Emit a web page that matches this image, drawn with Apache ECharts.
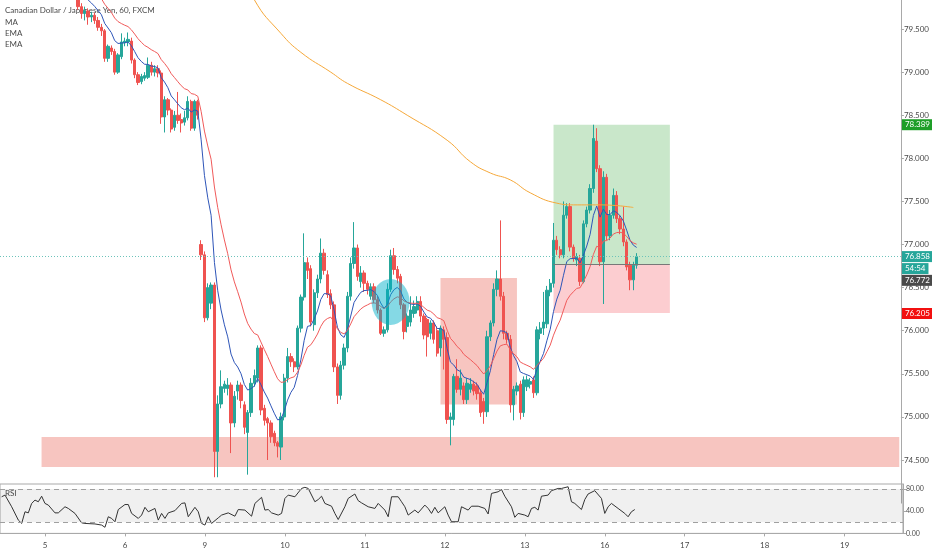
<!DOCTYPE html>
<html>
<head>
<meta charset="utf-8">
<script src="https://cdn.jsdelivr.net/npm/echarts@6/dist/echarts.min.js"></script>
<style>
html, body { margin: 0; padding: 0; background: #fff; }
#container { width: 932px; height: 550px; }
</style>
</head>
<body>
<div id="container"></div>
<script>
var dom = document.getElementById("container");
var myChart = echarts.init(dom, null, { renderer: "canvas" });

// trading days shown on the axis (weekend skipped), hourly bars
var days = [4, 5, 6, 9, 10, 11, 12, 13, 16, 17, 18, 19];
var firstHour = 11;   // first bar of day 4
var lastHour = 17;    // last slot of day 19

// [open, close, low, high]
var candles = [
    [80.50, 80.42, 80.38, 80.55], [80.42, 80.46, 80.38, 80.52], [80.46, 80.38, 80.33, 80.49],
    [80.38, 80.31, 80.27, 80.42], [80.31, 80.35, 80.26, 80.40], [80.35, 80.26, 80.22, 80.38],
    [80.26, 80.20, 80.15, 80.30], [80.20, 80.27, 80.17, 80.31], [80.27, 80.22, 80.18, 80.30],
    [80.22, 80.28, 80.19, 80.33], [80.28, 80.30, 80.24, 80.36], [80.30, 80.24, 80.20, 80.33],
    [80.24, 80.30, 80.21, 80.35], [80.30, 80.22, 80.18, 80.32], [80.22, 80.16, 80.12, 80.25],
    [80.16, 80.10, 80.06, 80.19], [80.10, 80.13, 80.05, 80.17], [80.13, 80.05, 80.01, 80.15],
    [80.05, 80.08, 80.00, 80.12], [80.08, 80.02, 79.97, 80.10], [80.02, 79.98, 79.93, 80.05],
    [79.98, 80.00, 79.92, 80.04], [80.00, 79.95, 79.90, 80.03],
    [79.95, 79.76, 79.72, 80.00], [79.76, 79.68, 79.62, 79.80], [79.68, 79.71, 79.60, 79.76],
    [79.71, 79.64, 79.55, 79.74], [79.64, 79.66, 79.58, 79.70], [79.66, 79.60, 79.56, 79.69],
    [79.60, 79.52, 79.48, 79.64], [79.52, 79.48, 79.42, 79.56], [79.48, 79.16, 79.12, 79.50],
    [79.16, 79.30, 79.12, 79.32], [79.28, 79.24, 79.20, 79.31], [79.24, 79.00, 78.97, 79.27],
    [79.00, 79.20, 78.98, 79.22], [79.18, 79.35, 79.15, 79.45], [79.34, 79.36, 79.30, 79.40],
    [79.35, 79.38, 79.30, 79.46], [79.36, 79.14, 79.10, 79.40], [79.14, 78.97, 78.93, 79.16],
    [78.97, 78.88, 78.85, 79.00], [78.89, 78.95, 78.86, 78.98], [78.93, 78.96, 78.90, 79.00],
    [78.94, 79.08, 78.92, 79.17], [79.08, 79.00, 78.96, 79.12], [79.00, 79.04, 78.95, 79.08],
    [79.04, 78.99, 78.94, 79.08], [78.99, 78.48, 78.40, 79.02], [78.48, 78.68, 78.30, 78.72],
    [78.68, 78.56, 78.50, 78.70], [78.56, 78.34, 78.30, 78.58], [78.36, 78.50, 78.32, 78.55],
    [78.50, 78.44, 78.40, 78.77], [78.45, 78.41, 78.30, 78.52], [78.42, 78.47, 78.38, 78.55],
    [78.47, 78.66, 78.44, 78.72], [78.66, 78.35, 78.32, 78.68], [78.35, 78.66, 78.32, 78.68],
    [78.66, 78.50, 78.45, 78.68],
    [77.00, 76.88, 76.82, 77.05], [76.88, 76.15, 76.10, 76.92], [76.15, 76.50, 76.12, 76.55],
    [76.32, 76.53, 76.25, 76.56], [76.53, 74.60, 74.30, 76.56], [74.60, 75.15, 74.30, 75.25],
    [75.15, 75.35, 75.10, 75.54], [75.33, 75.38, 75.28, 75.42], [75.33, 75.37, 75.25, 75.45],
    [75.37, 74.93, 74.58, 75.40], [74.93, 75.24, 74.88, 75.30], [75.30, 75.37, 75.20, 75.42],
    [75.37, 75.19, 75.10, 75.40], [75.14, 74.88, 74.80, 75.18], [74.82, 75.05, 74.33, 75.08],
    [75.05, 75.39, 75.00, 75.45], [75.39, 75.48, 75.35, 75.55], [75.45, 75.80, 75.40, 75.83],
    [75.80, 75.08, 75.02, 75.83], [75.10, 74.96, 74.90, 75.14], [74.98, 74.93, 74.50, 75.00],
    [74.93, 74.77, 74.70, 74.96], [74.81, 74.70, 74.66, 74.84], [74.70, 74.66, 74.53, 74.72],
    [74.65, 75.00, 74.50, 75.05], [75.00, 75.45, 74.96, 75.50], [75.45, 75.70, 75.40, 75.80],
    [75.70, 75.64, 75.58, 75.74], [75.64, 75.58, 75.52, 75.68], [75.58, 76.03, 75.55, 76.06],
    [76.03, 76.39, 75.98, 76.42], [76.39, 76.79, 76.35, 77.13], [76.79, 76.70, 76.60, 76.85],
    [76.72, 76.10, 76.05, 76.76], [76.07, 76.44, 76.00, 76.48], [76.44, 76.60, 76.38, 76.65],
    [76.60, 76.90, 76.55, 77.07], [76.90, 76.70, 76.65, 76.95], [76.65, 76.42, 76.38, 76.70],
    [76.43, 76.30, 76.25, 76.48], [76.30, 75.58, 75.52, 76.34], [75.58, 75.25, 75.15, 75.62],
    [75.25, 75.60, 75.20, 75.65], [75.60, 75.80, 75.55, 75.85], [75.80, 76.40, 75.75, 76.45],
    [76.40, 76.78, 76.35, 76.85], [76.78, 76.96, 76.72, 77.26], [76.96, 76.63, 76.58, 77.00],
    [76.57, 76.67, 76.50, 76.75], [76.67, 76.55, 76.45, 76.70], [76.55, 76.48, 76.42, 76.58],
    [76.40, 76.51, 76.36, 76.55], [76.51, 76.36, 76.32, 76.55], [76.36, 76.24, 76.20, 76.40],
    [76.24, 75.97, 75.95, 76.26], [75.97, 76.01, 75.93, 76.05], [76.01, 76.48, 75.98, 76.55],
    [76.48, 76.87, 76.45, 76.94], [76.87, 76.71, 76.65, 76.96], [76.71, 76.61, 76.55, 76.75],
    [76.63, 76.30, 76.25, 76.66], [76.30, 75.99, 75.90, 76.32], [76.05, 76.17, 75.98, 76.20],
    [76.10, 76.24, 76.05, 76.40], [76.20, 76.28, 76.15, 76.35], [76.24, 76.34, 76.20, 76.40],
    [76.34, 76.17, 76.10, 76.40], [76.17, 75.95, 75.90, 76.20], [76.13, 75.93, 75.70, 76.15],
    [75.97, 76.09, 75.90, 76.12], [76.09, 75.90, 75.85, 76.12], [76.00, 75.74, 75.70, 76.05],
    [75.80, 76.03, 75.70, 76.06], [76.01, 75.90, 75.55, 76.05], [75.92, 74.97, 74.92, 75.98],
    [74.97, 75.00, 74.67, 75.05], [74.97, 75.47, 74.90, 75.50], [75.47, 75.32, 75.28, 75.67],
    [75.32, 75.45, 75.25, 75.55], [75.36, 75.20, 75.15, 75.40], [75.20, 75.39, 75.15, 75.45],
    [75.32, 75.38, 75.28, 75.45], [75.38, 75.30, 75.25, 75.42], [75.36, 75.27, 75.20, 75.40],
    [75.28, 75.05, 75.00, 75.32], [75.18, 75.06, 74.92, 75.22], [75.06, 75.93, 75.00, 76.00],
    [75.93, 76.09, 75.88, 76.12], [76.09, 76.48, 76.05, 76.55], [76.48, 76.60, 76.40, 76.70],
    [76.60, 76.40, 76.35, 77.28], [76.40, 75.97, 75.90, 76.45], [75.97, 75.90, 75.85, 76.00],
    [75.90, 75.14, 75.05, 75.95], [75.14, 75.32, 74.96, 75.36], [75.30, 75.36, 75.25, 75.40],
    [75.38, 75.05, 74.97, 75.42], [75.05, 75.43, 75.00, 75.47], [75.35, 75.43, 75.30, 75.48],
    [75.38, 75.41, 75.33, 75.45], [75.43, 75.28, 75.22, 75.47],
    [75.28, 76.01, 75.25, 76.05], [75.97, 76.03, 75.90, 76.10], [76.03, 76.10, 75.95, 76.45],
    [76.08, 76.47, 76.03, 76.52], [76.45, 76.55, 76.40, 76.60], [76.55, 77.05, 76.50, 77.25],
    [77.05, 76.94, 76.88, 77.10], [76.94, 76.88, 76.84, 76.98], [76.88, 77.34, 76.84, 77.50],
    [77.34, 77.44, 77.30, 77.48], [77.44, 76.97, 76.92, 77.48], [76.97, 76.84, 76.80, 77.00],
    [76.82, 76.86, 76.75, 76.90], [76.84, 76.57, 76.52, 76.88], [76.57, 77.24, 76.55, 77.28],
    [77.24, 77.40, 77.20, 77.44], [77.40, 77.65, 77.36, 77.70], [77.65, 78.23, 77.60, 78.39],
    [78.20, 77.88, 77.84, 78.35], [77.88, 76.80, 76.75, 77.92], [76.80, 77.78, 76.31, 77.85],
    [77.78, 77.10, 77.05, 77.82], [77.10, 77.34, 77.05, 77.40], [77.34, 77.57, 77.30, 77.65],
    [77.57, 77.30, 77.25, 77.62], [77.30, 77.18, 77.12, 77.34], [77.18, 77.03, 76.98, 77.44],
    [77.03, 76.74, 76.70, 77.06], [76.76, 76.59, 76.47, 76.80], [76.59, 76.76, 76.47, 76.80],
    [76.76, 76.858, 76.72, 76.90]
];

// 200 period MA as [bar index, price]
var maPoints = [
    [72, 80.25], [76, 79.84], [84, 79.45], [90, 79.23], [99, 79.00], [104, 78.87],
    [114, 78.68], [122, 78.50], [134, 78.21], [141, 77.96], [147, 77.83], [153, 77.75],
    [159, 77.60], [167, 77.48], [172, 77.46], [180, 77.46], [190, 77.43]
];

var rsiPoints = [
    [0, 66], [1, 69], [3, 48], [5, 24], [6, 18], [7, 39], [8, 37], [9, 54], [10, 60], [11, 57],
    [12, 67], [13, 54], [14, 51], [16, 37], [17, 37], [19, 48], [20, 45], [22, 36], [24, 19],
    [25, 18], [28, 17], [30, 15], [31, 11], [32, 30], [33, 27], [34, 21], [35, 43], [37, 52],
    [38, 52], [39, 36], [41, 27], [42, 33], [43, 47], [44, 39], [46, 45], [47, 24], [48, 36],
    [49, 27], [50, 37], [52, 41], [54, 54], [55, 55], [56, 30], [58, 47], [59, 39], [60, 18],
    [61, 15], [62, 30], [63, 18], [65, 28], [66, 33], [68, 37], [70, 31], [71, 43], [73, 42],
    [75, 31], [76, 54], [78, 65], [79, 42], [80, 43], [81, 37], [83, 33], [84, 36], [85, 63],
    [86, 69], [88, 66], [90, 81], [91, 83], [92, 81], [94, 57], [95, 61], [96, 67], [97, 54],
    [99, 49], [100, 36], [101, 25], [103, 48], [104, 63], [106, 71], [107, 59], [108, 55],
    [110, 48], [112, 45], [113, 54], [115, 42], [116, 30], [117, 66], [119, 66], [120, 57],
    [121, 48], [122, 33], [124, 42], [125, 37], [127, 51], [128, 45], [129, 36], [130, 47],
    [131, 37], [133, 48], [134, 33], [135, 21], [137, 21], [138, 48], [140, 42], [141, 49],
    [143, 49], [145, 45], [146, 35], [147, 72], [149, 75], [150, 79], [151, 67], [153, 48],
    [154, 29], [155, 36], [157, 33], [158, 30], [159, 45], [160, 47], [161, 42], [162, 67],
    [164, 69], [165, 77], [167, 81], [168, 81], [170, 84], [171, 57], [172, 54], [174, 43],
    [175, 61], [176, 71], [178, 77], [180, 63], [181, 36], [182, 48], [183, 54], [185, 45],
    [187, 36], [188, 30], [189, 39], [190, 43]
];

// drawings
var lastPrice = 76.858;
var entry = 76.772, target = 78.389, stop = 76.205;
var posFrom = 166, posTo = 201;
var zoneFrom = 132, zoneTo = 155, zoneTop = 76.611, zoneBottom = 75.144;
var supportFrom = 12, supportTo = 270, supportTop = 74.767, supportBottom = 74.419;
var circlePoint = [117, 76.333];

var categories = [];
days.forEach(function (d, k) {
    var h0 = k === 0 ? firstHour : 0;
    var h1 = k === days.length - 1 ? lastHour : 23;
    for (var h = h0; h <= h1; h++) {
        categories.push(d + " " + (h < 10 ? "0" + h : h));
    }
});

function ema(period) {
    var k = 2 / (period + 1), prev = null, out = [];
    candles.forEach(function (c) {
        prev = prev === null ? c[1] : c[1] * k + prev * (1 - k);
        out.push(+prev.toFixed(4));
    });
    return out;
}

var font = 'Lato, "Open Sans", sans-serif';
var txt = "#4a4a4a";
var up = "#26a69a", down = "#ef5350";
var hidden = { color: "rgba(0,0,0,0)", width: 0 };

function tag(text, bg, extra) {
    var l = {
        show: true, position: "end", distance: 1, formatter: text,
        backgroundColor: bg, color: "#fff", fontSize: 8, fontFamily: font,
        padding: [2, 3, 1, 3]
    };
    return Object.assign(l, extra || {});
}

var dayTick = function (index, value) { return value.slice(-2) === "00"; };

var option = {
    animation: false,
    backgroundColor: "#ffffff",
    textStyle: { fontFamily: font },
    grid: [
        { left: 0, right: 29, top: 0, height: 503.1 },
        { left: 0, right: 29, top: 484, height: 49.4, show: true, borderColor: "#a9a9a9", borderWidth: 1 }
    ],
    xAxis: [
        {
            type: "category", gridIndex: 0, data: categories,
            axisLine: { show: false }, axisTick: { show: false }, axisLabel: { show: false },
            splitLine: { show: false }
        },
        {
            type: "category", gridIndex: 1, data: categories,
            axisLine: { lineStyle: { color: "#a9a9a9" } },
            axisTick: { show: true, interval: dayTick, alignWithLabel: true, length: 3, lineStyle: { color: "#a9a9a9" } },
            axisLabel: {
                interval: dayTick, color: txt, fontSize: 8, margin: 8,
                formatter: function (v) { return v.split(" ")[0]; }
            },
            splitLine: { show: false }
        }
    ],
    yAxis: [
        {
            type: "value", gridIndex: 0, position: "right",
            min: 74, max: 79.837, interval: 0.5,
            axisLine: { show: true, lineStyle: { color: "#a9a9a9" } },
            axisTick: { show: true, length: 3, lineStyle: { color: "#a9a9a9" } },
            axisLabel: {
                color: txt, fontSize: 8, margin: 3, showMinLabel: false, showMaxLabel: false,
                formatter: function (v) { return v.toFixed(3); }
            },
            splitLine: { show: false }
        },
        {
            type: "value", gridIndex: 1, position: "right",
            min: 0, max: 89, interval: 40,
            axisLine: { show: true, lineStyle: { color: "#a9a9a9" } },
            axisTick: { show: true, length: 3, lineStyle: { color: "#a9a9a9" } },
            axisLabel: {
                color: txt, fontSize: 7, margin: 3, showMaxLabel: false,
                formatter: function (v) { return v.toFixed(2); }
            },
            splitLine: { show: false }
        }
    ],
    graphic: [
        { type: "text", left: 5, top: 6, style: { text: "Canadian Dollar / Japanese Yen, 60, FXCM", fill: txt, fontSize: 8, fontFamily: font } },
        { type: "text", left: 5, top: 18, style: { text: "MA", fill: txt, fontSize: 8, fontFamily: font } },
        { type: "text", left: 5, top: 29, style: { text: "EMA", fill: txt, fontSize: 8, fontFamily: font } },
        { type: "text", left: 5, top: 40, style: { text: "EMA", fill: txt, fontSize: 8, fontFamily: font } },
        { type: "text", left: 5, top: 489, style: { text: "RSI", fill: txt, fontSize: 8, fontFamily: font } }
    ],
    series: [
        {
            name: "CADJPY", type: "candlestick", xAxisIndex: 0, yAxisIndex: 0,
            data: candles, barWidth: "84%", clip: true,
            itemStyle: { color: up, color0: down, borderColor: up, borderColor0: down, borderWidth: 1 },
            markArea: {
                silent: true,
                data: [
                    [{ xAxis: supportFrom, yAxis: supportTop, itemStyle: { color: "rgba(231,76,60,0.32)" } },
                     { xAxis: supportTo, yAxis: supportBottom }],
                    [{ xAxis: zoneFrom, yAxis: zoneTop, itemStyle: { color: "rgba(231,76,60,0.32)" } },
                     { xAxis: zoneTo, yAxis: zoneBottom }],
                    [{ xAxis: posFrom, yAxis: target, itemStyle: { color: "rgba(76,175,80,0.3)" } },
                     { xAxis: posTo, yAxis: entry }],
                    [{ xAxis: posFrom, yAxis: entry, itemStyle: { color: "rgba(242,54,69,0.25)" } },
                     { xAxis: posTo, yAxis: stop }]
                ]
            },
            markLine: {
                silent: true, symbol: ["none", "none"],
                data: [
                    { yAxis: lastPrice, lineStyle: { color: "#6cc3ba", type: [1, 2], width: 1 },
                      label: tag(lastPrice.toFixed(3), up) },
                    { yAxis: lastPrice, lineStyle: hidden,
                      label: tag("54:54", up, { offset: [0, 12] }) },
                    { yAxis: target, lineStyle: hidden, label: tag(target.toFixed(3), "#1e9e28") },
                    { yAxis: entry, lineStyle: hidden, label: tag(entry.toFixed(3), "#4a4a4a", { offset: [0, 16] }) },
                    { yAxis: stop, lineStyle: hidden, label: tag(stop.toFixed(3), "#f21010") },
                    [{ xAxis: posFrom, yAxis: entry, lineStyle: { color: "#787878", type: "solid", width: 1 }, label: { show: false } },
                     { xAxis: posTo, yAxis: entry }]
                ]
            }
        },
        {
            name: "EMA", type: "line", xAxisIndex: 0, yAxisIndex: 0,
            data: ema(9), showSymbol: false, symbol: "none",
            lineStyle: { color: "#2e55b8", width: 1 }, z: 3
        },
        {
            name: "EMA2", type: "line", xAxisIndex: 0, yAxisIndex: 0,
            data: ema(20), showSymbol: false, symbol: "none",
            lineStyle: { color: "#f05a5a", width: 1 }, z: 3
        },
        {
            name: "MA", type: "line", xAxisIndex: 0, yAxisIndex: 0,
            data: maPoints, smooth: true, showSymbol: false, symbol: "none",
            lineStyle: { color: "#f5a83a", width: 1 }, z: 3
        },
        {
            name: "mark", type: "scatter", xAxisIndex: 0, yAxisIndex: 0,
            data: [circlePoint], symbol: "circle", symbolSize: [38, 46], silent: true,
            itemStyle: { color: "rgba(0,176,200,0.6)" }, z: 4
        },
        {
            name: "RSI", type: "line", xAxisIndex: 1, yAxisIndex: 1,
            data: rsiPoints, showSymbol: false, symbol: "none",
            lineStyle: { color: "#333333", width: 1 },
            markArea: {
                silent: true,
                itemStyle: { color: "rgba(0,0,0,0.06)" },
                data: [[{ yAxis: 80 }, { yAxis: 20 }]]
            },
            markLine: {
                silent: true, symbol: ["none", "none"], label: { show: false },
                lineStyle: { color: "#a0a0a0", type: [5, 4], width: 1 },
                data: [{ yAxis: 80 }, { yAxis: 20 }]
            }
        }
    ]
};

if (option && typeof option === "object") {
    myChart.setOption(option);
}

window.addEventListener("resize", myChart.resize);
</script>
</body>
</html>
